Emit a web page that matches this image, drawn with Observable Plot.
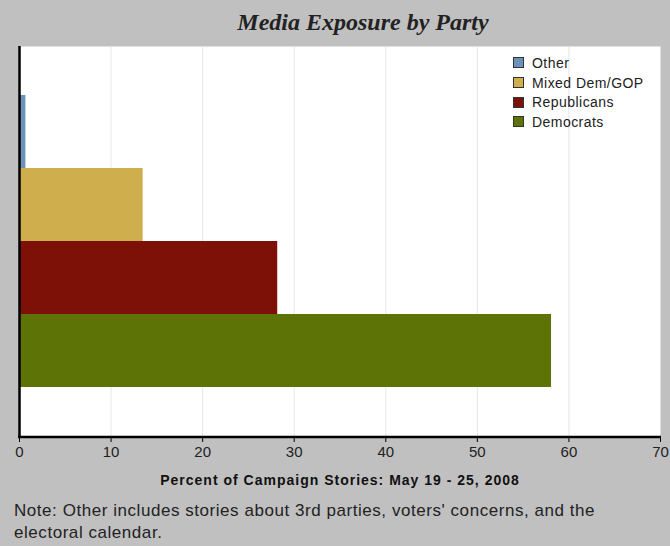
<!DOCTYPE html>
<html><head><meta charset="utf-8">
<script src="https://cdn.jsdelivr.net/npm/d3@7"></script>
<script src="https://cdn.jsdelivr.net/npm/@observablehq/plot@0.6"></script>
<style>
body{margin:0;background:#c0c0c0;}
#wrap{position:relative;width:670px;height:546px;overflow:hidden;background:#c0c0c0;font-family:"Liberation Sans",Arial,sans-serif;}
#title{position:absolute;left:0;top:7px;width:726px;text-align:center;font-family:"Liberation Serif","Times New Roman",serif;font-weight:bold;font-style:italic;font-size:24px;line-height:30px;color:#222;}
#chart{position:absolute;left:0;top:46px;}
#legend{position:absolute;left:513px;top:53px;font-size:14px;letter-spacing:0.45px;color:#222;}
#legend .row{height:19.7px;display:flex;align-items:center;}
#legend .sw{width:9px;height:9px;border:1px solid #333;margin-right:8px;}
#note{position:absolute;left:14px;top:500px;font-size:17px;letter-spacing:0.55px;line-height:22px;color:#222;width:660px;}
#chart .xlabel text{letter-spacing:1px;}
</style></head>
<body><div id="wrap">
<div id="title">Media Exposure by Party</div>
<div id="chart"></div>
<div id="legend"></div>
<div id="note">Note: Other includes stories about 3rd parties, voters' concerns, and the<br>electoral calendar.</div>
</div>
<script>
const parties = ["Other", "Mixed Dem/GOP", "Republicans", "Democrats"];
const shares = [0.7, 13.5, 28.2, 58.1];
const partyColors = ["#6b93b7", "#cfae4e", "#7d1007", "#5e7306"];
const xTicks = [0, 10, 20, 30, 40, 50, 60, 70];
const xLabel = "Percent of Campaign Stories: May 19 - 25, 2008";

const data = parties.map((p, i) => ({party: p, value: shares[i]}));

const chart = Plot.plot({
  width: 670,
  height: 446,
  marginTop: 0,
  marginBottom: 56,
  marginLeft: 19,
  marginRight: 10,
  style: {background: "transparent", fontFamily: "Liberation Sans, Arial, sans-serif", fontSize: "12px", color: "#222", overflow: "visible"},
  x: {domain: [0, 70], ticks: xTicks, label: null, axis: null},
  y: {domain: parties, axis: null, paddingInner: 0, paddingOuter: 0.655},
  color: {domain: parties, range: partyColors},
  marks: [
    Plot.frame({fill: "white", stroke: null}),
    Plot.gridX(xTicks.slice(1, -1), {stroke: "#e6e6e6", strokeOpacity: 1}),
    Plot.barX(data, {x: "value", y: "party", fill: "party"}),
    Plot.ruleX([0], {stroke: "#000", strokeWidth: 2.5}),
    Plot.axisX(xTicks, {anchor: "bottom", tickSize: 6, tickPadding: 4, stroke: "#000", fill: "#222", label: null, fontSize: 15}),
    Plot.text([xLabel], {frameAnchor: "bottom", dy: 48, fontWeight: "bold", fontSize: 14, fill: "#111", className: "xlabel"})
  ]
});
document.getElementById("chart").appendChild(chart);

// bottom axis line
const svg = d3.select(chart);
const xs = chart.scale("x");
svg.append("line")
  .attr("x1", xs.apply(0) - 1).attr("x2", xs.apply(70) + 1)
  .attr("y1", 391).attr("y2", 391)
  .attr("stroke", "#000").attr("stroke-width", 2.5);

const legend = document.getElementById("legend");
parties.forEach((p, i) => {
  const row = document.createElement("div");
  row.className = "row";
  const sw = document.createElement("div");
  sw.className = "sw";
  sw.style.background = partyColors[i];
  const t = document.createElement("span");
  t.textContent = p;
  row.appendChild(sw); row.appendChild(t);
  legend.appendChild(row);
});
</script>
</body></html>
